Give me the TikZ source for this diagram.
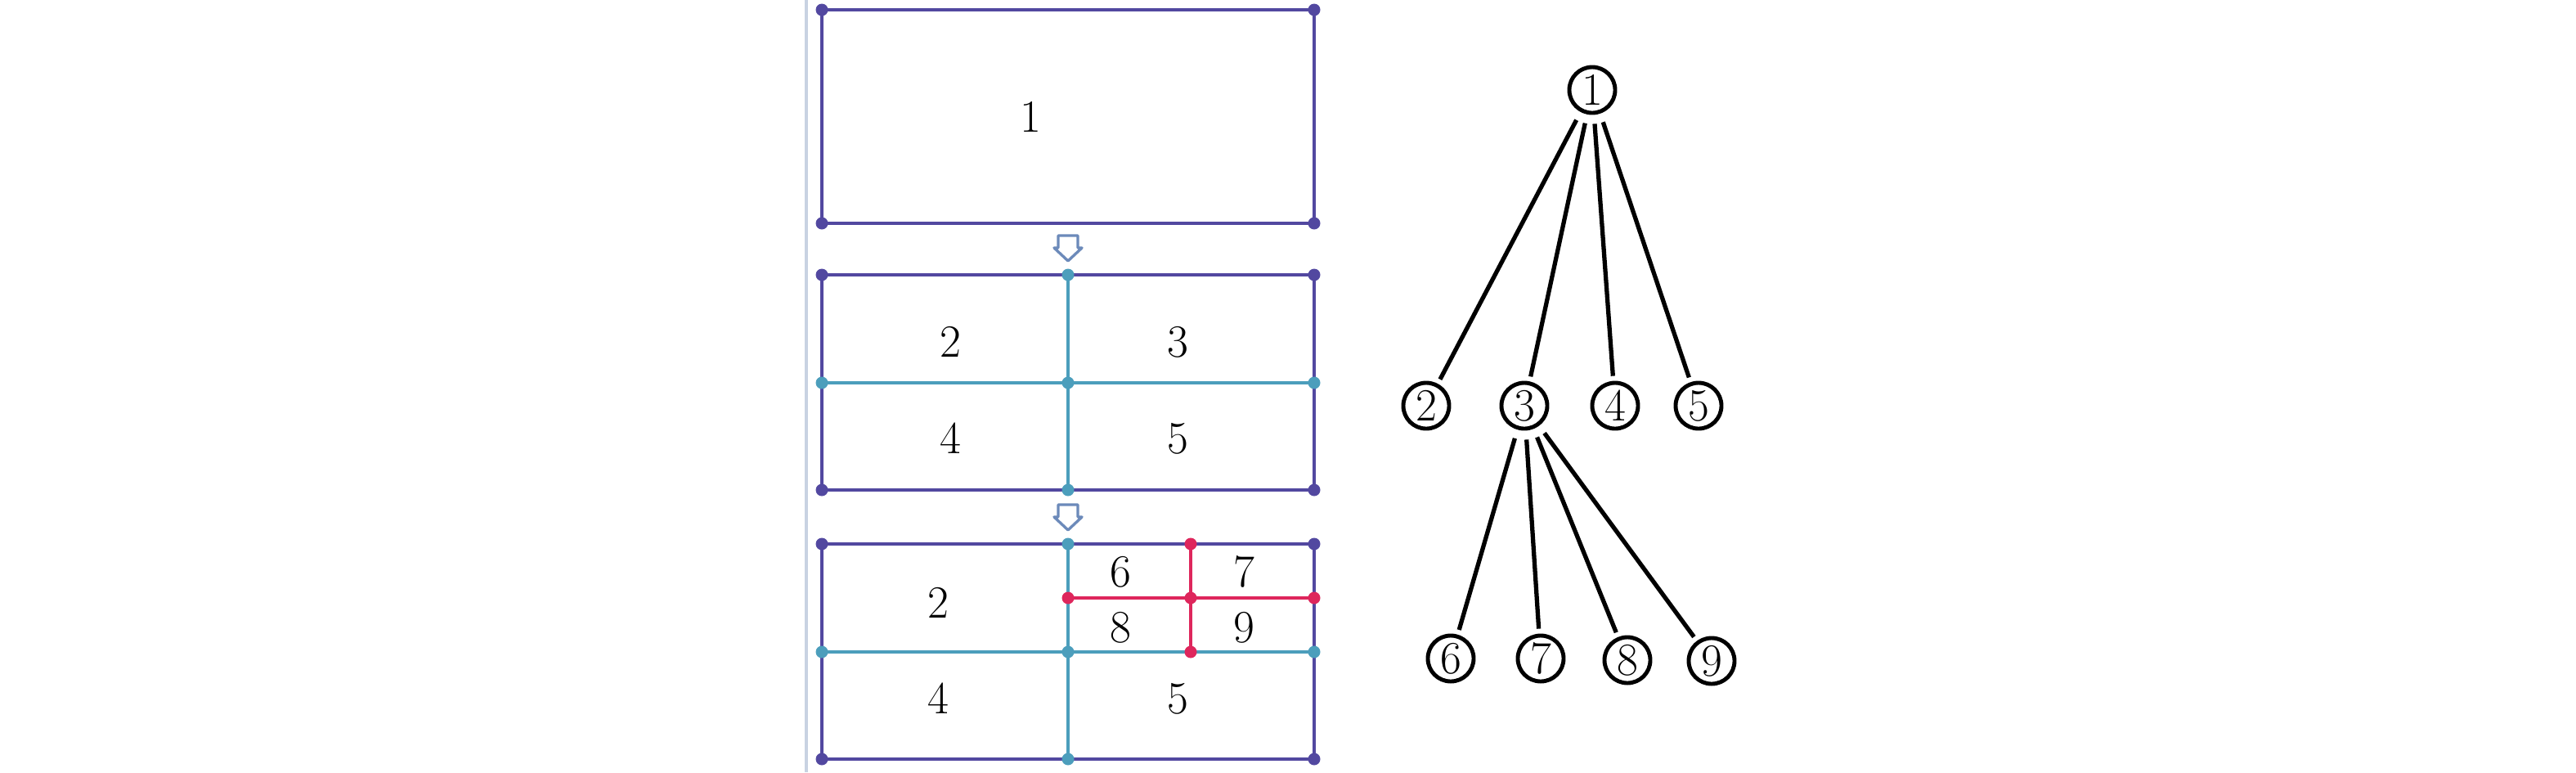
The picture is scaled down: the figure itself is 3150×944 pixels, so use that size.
\documentclass[tikz,border=0pt]{standalone}
\usepackage{tikz}
\definecolor{rectpurple}{RGB}{82,72,160}
\definecolor{splitcyan}{RGB}{76,158,188}
\definecolor{splitred}{RGB}{222,38,92}
\definecolor{arrowblue}{RGB}{108,138,186}
\definecolor{rulegray}{RGB}{200,210,226}
\begin{document}
\begin{tikzpicture}[x=0.01cm,y=-0.01cm,
    frame/.style={rectpurple,line width=1.3pt},
    cut/.style={splitcyan,line width=1.3pt},
    subcut/.style={splitred,line width=1.3pt},
    dot/.style={circle,fill=#1,inner sep=0pt,minimum size=0.15cm},
    num/.style={font=\fontsize{16}{19}\selectfont},
    leaf/.style={circle,draw,line width=1.4pt,inner sep=0pt,minimum size=0.56cm,font=\fontsize{16}{19}\selectfont},
    edge/.style={line width=1.5pt,shorten <=0.11cm,shorten >=0.06cm},
    down/.style={arrowblue,line width=0.95pt,line join=round}]
    \useasboundingbox (0,0) rectangle (3150,944);
    \draw[rulegray,line width=0.9pt] (986,0) -- (986,944);
    % the three stages
    \draw[frame] (1005,12) rectangle (1607,273);
    \draw[frame] (1005,336) rectangle (1607,599);
    \draw[cut] (1306,336) -- (1306,599);
    \draw[cut] (1005,468) -- (1607,468);
    \draw[frame] (1005,665) rectangle (1607,928);
    \draw[cut] (1306,665) -- (1306,928);
    \draw[cut] (1005,797) -- (1607,797);
    \draw[subcut] (1456,665) -- (1456,797);
    \draw[subcut] (1306,731) -- (1607,731);
    \foreach \y in {12,273,336,599,665,928}
        \foreach \x in {1005,1607}
            \node[dot=rectpurple] (p\x\y) at (\x,\y) {};
    \foreach \x/\y in {1306/336,1306/599,1005/468,1306/468,1607/468,
                       1306/665,1306/928,1005/797,1306/797,1607/797}
        \node[dot=splitcyan] (c\x\y) at (\x,\y) {};
    \foreach \x/\y in {1456/665,1306/731,1456/731,1607/731,1456/797}
        \node[dot=splitred] (r\x\y) at (\x,\y) {};
    % arrows between the stages
    \foreach \t in {288,617}
        \draw[down] (1294,\t) -- (1318,\t) -- (1318,\t+15) -- (1323,\t+15)
            -- (1306,\t+31) -- (1289,\t+15) -- (1294,\t+15) -- cycle;
    \node[num] (a1) at (1260,143) {1};
    \node[num] (b2) at (1162,418) {2};
    \node[num] (b3) at (1440,418) {3};
    \node[num] (b4) at (1162,536) {4};
    \node[num] (b5) at (1440,536) {5};
    \node[num] (c2) at (1147,737) {2};
    \node[num] (c4) at (1147,854) {4};
    \node[num] (c5) at (1440,854) {5};
    \node[num] (c6) at (1370,699) {6};
    \node[num] (c7) at (1521,699) {7};
    \node[num] (c8) at (1370,767) {8};
    \node[num] (c9) at (1521,767) {9};
    % tree
    \node[leaf] (n1) at (1947,110) {1};
    \node[leaf] (n2) at (1744,496) {2};
    \node[leaf] (n3) at (1864,496) {3};
    \node[leaf] (n4) at (1975,496) {4};
    \node[leaf] (n5) at (2077,496) {5};
    \node[leaf] (n6) at (1774,805) {6};
    \node[leaf] (n7) at (1884,805) {7};
    \node[leaf] (n8) at (1990,807) {8};
    \node[leaf] (n9) at (2093,808) {9};
    \foreach \k in {2,3,4,5}
        \draw[edge] (n1) -- (n\k);
    \foreach \k in {6,7,8,9}
        \draw[edge] (n3) -- (n\k);
\end{tikzpicture}
\end{document}
